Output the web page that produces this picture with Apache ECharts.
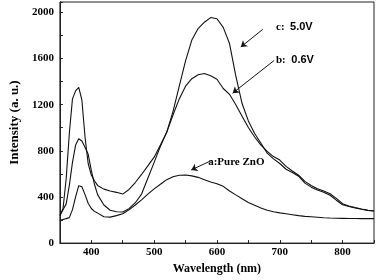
<!DOCTYPE html>
<html>
<head>
<meta charset="utf-8">
<script src="https://cdn.jsdelivr.net/npm/echarts@6/dist/echarts.min.js"></script>
<style>
  html, body { margin: 0; padding: 0; background: #fff; }
  #chart { width: 377px; height: 280px; }
</style>
</head>
<body>
<div id="chart"></div>
<script>
// wavelength (nm)
const wavelength = [350,355,360,365,370,375,380,385,390,395,400,405,410,420,430,440,450,460,470,480,490,500,510,520,530,540,550,560,570,580,590,600,610,620,630,640,650,660,670,680,690,700,710,720,730,740,750,760,770,780,790,800,810,820,830,840,850]
// a: Pure ZnO
const pureZnO = [198,205,212,221,290,400,498,488,420,345,300,275,260,228,225,238,255,288,330,375,425,470,510,550,575,588,590,583,570,550,530,515,492,452,418,385,352,328,305,285,272,262,254,246,238,232,228,224,220,217,215,214,213,213,212,212,212]
// b: 0.6V
const v06 = [240,300,560,950,1250,1320,1350,1240,920,690,590,540,500,468,452,440,425,465,525,595,670,745,850,960,1110,1250,1360,1425,1460,1470,1450,1420,1340,1290,1200,1100,1002,920,850,795,750,720,665,625,588,535,500,472,452,428,388,342,322,308,295,285,278]
// c: 5.0V
const v50 = [240,290,340,500,700,850,905,885,830,770,630,510,420,330,285,272,270,298,350,425,562,700,840,960,1140,1360,1580,1760,1860,1915,1955,1945,1870,1730,1450,1210,1059,950,865,780,730,690,640,612,580,520,485,460,440,415,372,332,318,305,293,284,278]

const xTicks = [400, 500, 600, 700, 800]
const yTicks = [0, 400, 800, 1200, 1600, 2000]

const serif = '"Liberation Serif", "DejaVu Serif", serif'
const sans = '"Liberation Sans", Arial, sans-serif'

const pairs = (ys) => wavelength.map((x, i) => [x, ys[i]])

const chart = echarts.init(document.getElementById('chart'))

const lineBase = {
  type: 'line',
  showSymbol: false,
  symbol: 'none',
  animation: false,
  lineStyle: { color: '#111', width: 1.1 },
  z: 3
}

const arrow = (from, to) => ([
  { coord: from, symbol: 'none' },
  { coord: to, symbol: 'arrow', symbolSize: 6 }
])

const textPoint = (coord, text) => ({
  coord: coord,
  symbol: 'circle',
  symbolSize: 0,
  label: {
    show: true,
    position: 'right',
    distance: 0,
    formatter: text,
    color: '#000',
    fontSize: 11,
    fontWeight: 'bold',
    fontFamily: serif,
    rich: {
      s: { fontFamily: serif, fontWeight: 'bold', fontSize: 11, color: '#000' },
      n: { fontFamily: sans, fontWeight: 'bold', fontSize: 11, color: '#000' }
    }
  }
})

chart.setOption({
  animation: false,
  backgroundColor: '#fff',
  grid: {
    left: 48, right: 1, top: 2, bottom: 32,
    show: true, borderColor: '#222', borderWidth: 1
  },
  xAxis: {
    type: 'value',
    min: 350, max: 850, interval: 50,
    name: 'Wavelength (nm)',
    nameLocation: 'middle',
    nameGap: 13,
    nameTextStyle: { fontFamily: serif, fontWeight: 'bold', fontSize: 12, color: '#000' },
    axisLine: { lineStyle: { color: '#222', width: 1 } },
    axisTick: { inside: true, length: 3, lineStyle: { color: '#222' } },
    splitLine: { show: false },
    axisLabel: {
      fontFamily: serif, fontWeight: 'bold', fontSize: 11, color: '#000', margin: 4,
      formatter: (v) => xTicks.includes(v) ? String(v) : ''
    }
  },
  yAxis: {
    type: 'value',
    min: 0, max: 2090, interval: 200,
    name: 'Intensity (a. u.)',
    nameLocation: 'middle',
    nameGap: 35,
    nameTextStyle: { fontFamily: serif, fontWeight: 'bold', fontSize: 13, color: '#000' },
    axisLine: { show: true, lineStyle: { color: '#222', width: 1 } },
    axisTick: { show: true, inside: true, length: 3, lineStyle: { color: '#222' } },
    splitLine: { show: false },
    axisLabel: {
      fontFamily: serif, fontWeight: 'bold', fontSize: 11, color: '#000', margin: 6,
      formatter: (v) => yTicks.includes(v) ? String(v) : ''
    }
  },
  series: [
    {
      ...lineBase,
      name: 'a',
      data: pairs(pureZnO),
      markLine: {
        silent: true, animation: false,
        lineStyle: { color: '#111', width: 1, type: 'solid' },
        label: { show: false },
        data: [arrow([592, 718], [559, 634])]
      },
      markPoint: {
        silent: true, animation: false,
        data: [textPoint([586, 704], 'a:Pure ZnO')]
      }
    },
    {
      ...lineBase,
      name: 'b',
      data: pairs(v06),
      markLine: {
        silent: true, animation: false,
        lineStyle: { color: '#111', width: 1, type: 'solid' },
        label: { show: false },
        data: [arrow([691, 1583], [625, 1300])]
      },
      markPoint: {
        silent: true, animation: false,
        data: [textPoint([694, 1589], '{s|b:}  {n|0.6V}')]
      }
    },
    {
      ...lineBase,
      name: 'c',
      data: pairs(v50),
      markLine: {
        silent: true, animation: false,
        lineStyle: { color: '#111', width: 1, type: 'solid' },
        label: { show: false },
        data: [arrow([673, 1853], [638, 1700])]
      },
      markPoint: {
        silent: true, animation: false,
        data: [textPoint([694, 1872], '{s|c:}  {n|5.0V}')]
      }
    }
  ]
})
</script>
</body>
</html>
